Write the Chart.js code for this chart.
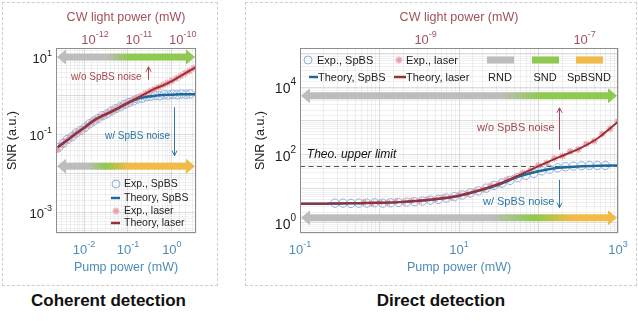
<!DOCTYPE html>
<html>
<head>
<meta charset="utf-8">
<script src="https://cdn.jsdelivr.net/npm/chart.js@4.4.1/dist/chart.umd.min.js"></script>
<style>
body{margin:0;background:#fff;width:638px;height:321px;position:relative;overflow:hidden;font-family:"Liberation Sans",Arial,sans-serif}
.panel{position:absolute;border:1px dashed #cdcdcd}
#boxL{left:2px;top:2px;width:214px;height:282px}
#boxR{left:245px;top:2px;width:390px;height:282px}
.cap{position:absolute;top:291px;font-weight:bold;font-size:17px;color:#111;text-align:center}
#capL{left:0;width:217px}
#capR{left:245px;width:392px}
#cvL{position:absolute;left:0;top:0}
#cvR{position:absolute;left:240px;top:0}
</style>
</head>
<body>
<div class="panel" id="boxL"></div>
<div class="panel" id="boxR"></div>
<canvas id="cvL" width="225" height="290"></canvas>
<canvas id="cvR" width="398" height="290"></canvas>
<div class="cap" id="capL">Coherent detection</div>
<div class="cap" id="capR">Direct detection</div>
<script>
// ---- coherent detection ----
const cohTheoryPump = [0.00251, 0.00398, 0.00631, 0.01, 0.0158, 0.0251, 0.0398, 0.0631, 0.1, 0.158, 0.251, 0.398, 0.631, 1.0, 1.58, 2.51, 3.55];
const cohTheoryLaser = [0.0479, 0.0708, 0.105, 0.151, 0.224, 0.302, 0.380, 0.501, 0.661, 0.871, 1.15, 1.51, 1.86, 2.40, 3.24, 4.37, 5.50];
const cohTheorySpbs = [0.0479, 0.0708, 0.105, 0.151, 0.224, 0.302, 0.380, 0.501, 0.661, 0.832, 0.933, 1.0, 1.05, 1.07, 1.10, 1.10, 1.10];

const cohSpbsPump = [0.00263, 0.00331, 0.00417, 0.00525, 0.00661, 0.00832, 0.0105, 0.0132, 0.0166, 0.0209, 0.0263, 0.0331, 0.0417, 0.0525, 0.0661, 0.0832, 0.105, 0.132, 0.166, 0.209, 0.263, 0.331, 0.417, 0.525, 0.661, 0.832, 1.05, 1.32, 1.66, 2.09, 2.63];
const cohSpbsSnr = [0.047, 0.060, 0.076, 0.089, 0.112, 0.129, 0.155, 0.191, 0.224, 0.263, 0.309, 0.347, 0.407, 0.468, 0.525, 0.603, 0.676, 0.741, 0.832, 0.871, 0.955, 0.977, 1.02, 1.00, 1.07, 1.05, 1.10, 1.07, 1.12, 1.10, 1.12];

const cohLaserPump = [0.00251, 0.00316, 0.00398, 0.00501, 0.00631, 0.00794, 0.01, 0.0126, 0.0158, 0.02, 0.0251, 0.0316, 0.0398, 0.0501, 0.0631, 0.0794, 0.1, 0.126, 0.158, 0.2, 0.251, 0.316, 0.398, 0.501, 0.631, 0.794, 1.0, 1.26, 1.58, 2.0, 2.51, 3.16];
const cohLaserSnr = [0.0417, 0.0562, 0.0708, 0.0871, 0.107, 0.126, 0.148, 0.182, 0.219, 0.257, 0.295, 0.339, 0.389, 0.447, 0.513, 0.575, 0.661, 0.759, 0.871, 1.0, 1.15, 1.32, 1.48, 1.66, 1.91, 2.14, 2.45, 2.82, 3.24, 3.80, 4.37, 5.13];

const cohPumpTicks = [-2, -1, 0];
const cohCwTicks = [-12, -11, -10];
const cohSnrTicks = [-3, -1, 1];

// ---- direct detection ----
const dirTheoryPump = [0.1, 0.178, 0.316, 0.562, 1, 1.78, 3.16, 5.62, 10, 17.8, 31.6, 56.2, 100, 178, 316, 562, 1000];
const dirTheoryLaser = [3.63, 3.63, 3.72, 3.80, 3.89, 4.07, 4.47, 5.13, 6.31, 8.91, 14.1, 25.1, 46.8, 85.1, 148, 316, 955];
const dirTheorySpbs = [3.63, 3.63, 3.72, 3.80, 3.89, 4.07, 4.47, 5.13, 6.31, 8.91, 13.5, 22.9, 33.1, 41.7, 45.7, 47.9, 49.0];

const dirSpbsPump = [0.275, 0.347, 0.437, 0.550, 0.692, 0.871, 1.10, 1.38, 1.74, 2.19, 2.75, 3.47, 4.37, 5.50, 6.92, 8.71, 11.0, 13.8, 17.4, 21.9, 27.5, 34.7, 43.7, 55.0, 69.2, 87.1, 110, 138, 174, 219, 275, 347, 437, 550, 692];
const dirSpbsSnr = [3.80, 3.80, 3.72, 3.80, 3.80, 3.89, 3.80, 3.89, 3.98, 4.07, 4.17, 4.37, 4.68, 4.90, 5.37, 5.89, 6.61, 7.59, 8.71, 10.5, 12.6, 14.8, 17.8, 21.4, 25.1, 28.8, 33.9, 38.0, 41.7, 44.7, 46.8, 47.9, 49.0, 49.0, 49.0];

const dirLaserPump = [0.631, 0.794, 1, 1.26, 1.58, 2.0, 2.51, 3.16, 3.98, 5.01, 6.31, 7.94, 10, 12.6, 15.8, 20, 25.1, 31.6, 39.8, 50.1, 63.1, 79.4, 100, 126, 158, 200, 251, 316, 398, 501, 631, 794, 1000];
const dirLaserSnr = [3.98, 3.72, 3.98, 3.89, 4.27, 4.07, 4.47, 4.37, 4.90, 4.90, 5.62, 5.62, 6.61, 7.08, 8.71, 9.55, 12.3, 13.8, 18.6, 21.9, 29.5, 35.5, 49.0, 57.5, 79.4, 93.3, 126, 145, 209, 257, 417, 589, 977];

const dirUpperLimit = 48;
const dirPumpTicks = [-1, 1, 3];
const dirCwTicks = [-9, -7];
const dirSnrTicks = [0, 2, 4];

const RED = '#9c2f35', BLUE = '#1f6a9a';
const RED_TXT = '#a5474e', BLUE_TXT = '#2f76a6';
const TOP_TXT = '#a0525a', BOT_TXT = '#4f8cb6';
const CIRC = '#8fb0dc', STAR = '#eaa0ab';
const GRAY = '#bdbdbd', GREEN = '#8fc94f', ORANGE = '#f2bb47';
const FONT = '"Liberation Sans", Arial, sans-serif';

function pts(xs, ys) {
  return xs.map((x, i) => ({x: x, y: ys[i]}));
}

function font(size, style) {
  return (style || '') + ' ' + size + 'px ' + FONT;
}

// thick double-headed arrow filled with a colour gradient
function band(ctx, x0, x1, y, stops) {
  const sh = 3.5, hh = 7.5, hl = 9;
  const g = ctx.createLinearGradient(x0, 0, x1, 0);
  stops.forEach(s => g.addColorStop(s[0], s[1]));
  ctx.beginPath();
  ctx.moveTo(x0, y);
  ctx.lineTo(x0 + hl, y - hh);
  ctx.lineTo(x0 + hl, y - sh);
  ctx.lineTo(x1 - hl, y - sh);
  ctx.lineTo(x1 - hl, y - hh);
  ctx.lineTo(x1, y);
  ctx.lineTo(x1 - hl, y + hh);
  ctx.lineTo(x1 - hl, y + sh);
  ctx.lineTo(x0 + hl, y + sh);
  ctx.lineTo(x0 + hl, y + hh);
  ctx.closePath();
  ctx.fillStyle = g;
  ctx.fill();
}

function vArrow(ctx, x, y0, y1, color) {
  const d = y1 < y0 ? 1 : -1;
  ctx.strokeStyle = color;
  ctx.lineWidth = 1;
  ctx.beginPath();
  ctx.moveTo(x, y0);
  ctx.lineTo(x, y1);
  ctx.moveTo(x - 2.5, y1 + 5 * d);
  ctx.lineTo(x, y1);
  ctx.lineTo(x + 2.5, y1 + 5 * d);
  ctx.stroke();
}

// "10" with a raised exponent
function pow10(ctx, x, y, e, align, size, color) {
  const sup = Math.round(size * 0.7);
  ctx.fillStyle = color;
  ctx.textBaseline = 'middle';
  ctx.textAlign = 'left';
  ctx.font = font(size);
  const wb = ctx.measureText('10').width;
  ctx.font = font(sup);
  const ws = ctx.measureText(String(e)).width;
  const x0 = align === 'right' ? x - wb - ws : x - (wb + ws) / 2;
  ctx.font = font(size);
  ctx.fillText('10', x0, y);
  ctx.font = font(sup);
  ctx.fillText(String(e), x0 + wb, y - size * 0.45);
}

function drawKey(ctx, a, it, size) {
  const x = a.left + it.dx, y = a.top + it.dy;
  if (it.kind === 'circle') {
    ctx.strokeStyle = CIRC;
    ctx.lineWidth = 1;
    ctx.beginPath();
    ctx.arc(x, y, 4, 0, Math.PI * 2);
    ctx.stroke();
  } else if (it.kind === 'star') {
    ctx.strokeStyle = STAR;
    ctx.lineWidth = 1.3;
    ctx.beginPath();
    for (let k = 0; k < 4; k++) {
      const t = k * Math.PI / 4;
      ctx.moveTo(x - 3.5 * Math.cos(t), y - 3.5 * Math.sin(t));
      ctx.lineTo(x + 3.5 * Math.cos(t), y + 3.5 * Math.sin(t));
    }
    ctx.stroke();
  } else if (it.kind === 'line') {
    ctx.strokeStyle = it.color;
    ctx.lineWidth = 2.5;
    ctx.beginPath();
    ctx.moveTo(a.left + it.x0, y);
    ctx.lineTo(a.left + it.x1, y);
    ctx.stroke();
  } else if (it.kind === 'bar') {
    ctx.fillStyle = it.color;
    ctx.fillRect(x, y - 3.5, 27, 7);
  }
  if (it.text) {
    ctx.fillStyle = '#222';
    ctx.font = font(size);
    ctx.textBaseline = 'middle';
    ctx.textAlign = it.align || 'left';
    ctx.fillText(it.text, a.left + it.tx, y + 0.5);
  }
}

function makeDecor(cfg) {
  return {
    id: 'decor',
    beforeDatasetsDraw(chart) {
      const {ctx, chartArea: a, scales} = chart;
      ctx.save();
      cfg.bands.forEach(b => band(ctx, a.left + 1, a.right - 1, scales.y.getPixelForValue(b.y), b.stops));
      if (cfg.limit) {
        const yl = Math.round(scales.y.getPixelForValue(cfg.limit)) + 0.5;
        ctx.strokeStyle = '#555';
        ctx.lineWidth = 1;
        ctx.setLineDash([5, 3.5]);
        ctx.beginPath();
        ctx.moveTo(a.left, yl);
        ctx.lineTo(a.right, yl);
        ctx.stroke();
        ctx.setLineDash([]);
      }
      ctx.restore();
    },
    afterDraw(chart) {
      const {ctx, chartArea: a, scales} = chart;
      ctx.save();
      ctx.strokeStyle = '#8e8e8e';
      ctx.lineWidth = 1;
      ctx.strokeRect(a.left + 0.5, a.top + 0.5, a.width - 1, a.height - 1);

      cfg.xTicks.forEach(e => pow10(ctx, scales.x.getPixelForValue(Math.pow(10, e)), a.bottom + 17, e, 'center', 13, BOT_TXT));
      cfg.topTicks.forEach(e => pow10(ctx, scales.x2.getPixelForValue(Math.pow(10, e)), a.top - 8, e, 'center', 13, TOP_TXT));
      cfg.yTicks.forEach(e => pow10(ctx, a.left - 4, scales.y.getPixelForValue(Math.pow(10, e)) + 2, e, 'right', cfg.ySize, '#222'));

      cfg.notes.forEach(n => {
        ctx.fillStyle = n.color;
        ctx.font = font(n.size, n.style);
        ctx.textAlign = 'left';
        ctx.textBaseline = 'middle';
        ctx.fillText(n.text, scales.x.getPixelForValue(n.x), scales.y.getPixelForValue(n.y));
      });
      cfg.arrows.forEach(r => {
        const x = Math.round(scales.x.getPixelForValue(r.x)) + 0.5;
        vArrow(ctx, x, scales.y.getPixelForValue(r.from), scales.y.getPixelForValue(r.to), r.color);
      });
      cfg.key.forEach(it => drawKey(ctx, a, it, cfg.keySize));
      ctx.restore();
    }
  };
}

function makeChart(id, d, ax, pad, yWidth, cfg) {
  const gridColor = c => (c.tick && c.tick.major) ? 'rgba(0,0,0,0.13)' : 'rgba(0,0,0,0.055)';
  return new Chart(document.getElementById(id), {
    type: 'scatter',
    data: {
      datasets: [
        {label: 'Theory, laser', data: pts(d.thPump, d.thLaser), showLine: true, borderColor: RED, borderWidth: 2, pointRadius: 0, cubicInterpolationMode: 'monotone', order: 0},
        {label: 'Theory, SpBS', data: pts(d.thPump, d.thSpbs), showLine: true, borderColor: BLUE, borderWidth: 2.5, pointRadius: 0, cubicInterpolationMode: 'monotone', order: 1},
        {label: 'Exp., laser', data: pts(d.laserPump, d.laserSnr), pointStyle: 'star', pointRadius: 3.5, borderColor: STAR, borderWidth: 1.3, backgroundColor: STAR, order: 2},
        {label: 'Exp., SpBS', data: pts(d.spbsPump, d.spbsSnr), pointStyle: 'circle', pointRadius: 4.2, borderColor: CIRC, borderWidth: 1, backgroundColor: 'rgba(0,0,0,0)', order: 3}
      ]
    },
    options: {
      responsive: false,
      animation: false,
      events: [],
      layout: {padding: pad},
      plugins: {legend: {display: false}, tooltip: {enabled: false}},
      scales: {
        x: {
          type: 'logarithmic', position: 'bottom', min: ax.xMin, max: ax.xMax,
          grid: {color: gridColor, drawTicks: false},
          border: {display: false},
          ticks: {display: false},
          title: {display: true, text: 'Pump power (mW)', color: BOT_TXT, font: {size: 12.5, family: FONT}, padding: 0},
          afterFit: s => { s.height = 42.5; }
        },
        x2: {
          type: 'logarithmic', axis: 'x', position: 'top', min: ax.cwMin, max: ax.cwMax,
          grid: {display: false},
          border: {display: false},
          ticks: {display: false},
          title: {display: true, text: 'CW light power (mW)', color: TOP_TXT, font: {size: 12.5, family: FONT}, padding: 0},
          afterFit: s => { s.height = 37.5; }
        },
        y: {
          type: 'logarithmic', position: 'left', min: ax.yMin, max: ax.yMax,
          grid: {color: gridColor, drawTicks: false},
          border: {display: false},
          ticks: {display: false},
          title: {display: true, text: 'SNR (a.u.)', color: '#222', font: {size: 12.5, family: FONT}, padding: 0},
          afterFit: s => { s.width = yWidth; }
        }
      }
    },
    plugins: [makeDecor(cfg)]
  });
}

makeChart('cvL',
  {thPump: cohTheoryPump, thLaser: cohTheoryLaser, thSpbs: cohTheorySpbs,
   spbsPump: cohSpbsPump, spbsSnr: cohSpbsSnr, laserPump: cohLaserPump, laserSnr: cohLaserSnr},
  {xMin: Math.pow(10, -2.64), xMax: Math.pow(10, 0.55), cwMin: Math.pow(10, -12.89), cwMax: Math.pow(10, -9.70),
   yMin: Math.pow(10, -3.46), yMax: Math.pow(10, 1.23)},
  {left: 5.5, right: 29, top: 10.5, bottom: 14.5}, 50.5,
  {
    xTicks: cohPumpTicks, topTicks: cohCwTicks, yTicks: cohSnrTicks, ySize: 13, keySize: 10.5,
    bands: [
      {y: 10, stops: [[0, GRAY], [0.36, GRAY], [0.52, GREEN], [1, GREEN]]},
      {y: 0.0155, stops: [[0, GRAY], [0.22, GRAY], [0.35, GREEN], [0.52, ORANGE], [1, ORANGE]]}
    ],
    notes: [
      {text: 'w/o SpBS noise', x: 0.005, y: 3.1, color: RED_TXT, size: 10},
      {text: 'w/ SpBS noise', x: 0.030, y: 0.093, color: BLUE_TXT, size: 10}
    ],
    arrows: [
      {x: 0.285, from: 2.6, to: 5.6, color: RED_TXT},
      {x: 1.11, from: 0.51, to: 0.029, color: BLUE_TXT}
    ],
    key: [
      {kind: 'circle', dx: 60, dy: 136, text: 'Exp., SpBS', tx: 68},
      {kind: 'line', color: BLUE, x0: 55, x1: 64, dy: 150, text: 'Theory, SpBS', tx: 68},
      {kind: 'star', dx: 60, dy: 163, text: 'Exp., laser', tx: 68},
      {kind: 'line', color: RED, x0: 55, x1: 64, dy: 175, text: 'Theory, laser', tx: 68}
    ]
  });

makeChart('cvR',
  {thPump: dirTheoryPump, thLaser: dirTheoryLaser, thSpbs: dirTheorySpbs,
   spbsPump: dirSpbsPump, spbsSnr: dirSpbsSnr, laserPump: dirLaserPump, laserSnr: dirLaserSnr},
  {xMin: 0.1, xMax: 1000, cwMin: Math.pow(10, -10.58), cwMax: Math.pow(10, -6.58),
   yMin: Math.pow(10, -0.3), yMax: Math.pow(10, 5.15)},
  {left: 13.5, right: 20, top: 10.5, bottom: 14.5}, 46.5,
  {
    xTicks: dirPumpTicks, topTicks: dirCwTicks, yTicks: dirSnrTicks, ySize: 14, keySize: 11,
    limit: dirUpperLimit,
    bands: [
      {y: 5500, stops: [[0, GRAY], [0.63, GRAY], [0.76, GREEN], [1, GREEN]]},
      {y: 1.4, stops: [[0, GRAY], [0.6, GRAY], [0.74, GREEN], [0.86, ORANGE], [1, ORANGE]]}
    ],
    notes: [
      {text: 'w/o SpBS noise', x: 16.8, y: 630, color: RED_TXT, size: 11},
      {text: 'w/ SpBS noise', x: 20, y: 4.16, color: BLUE_TXT, size: 11},
      {text: 'Theo. upper limit', x: 0.122, y: 100, color: '#111', size: 12, style: 'italic'}
    ],
    arrows: [
      {x: 181, from: 141, to: 2450, color: RED_TXT},
      {x: 181, from: 18.5, to: 2.77, color: BLUE_TXT}
    ],
    key: [
      {kind: 'circle', dx: 8, dy: 12, text: 'Exp., SpBS', tx: 17},
      {kind: 'star', dx: 99, dy: 12, text: 'Exp., laser', tx: 106},
      {kind: 'bar', color: GRAY, dx: 187, dy: 12},
      {kind: 'bar', color: GREEN, dx: 232, dy: 12},
      {kind: 'bar', color: ORANGE, dx: 276, dy: 12},
      {kind: 'line', color: BLUE, x0: 9, x1: 18, dy: 29, text: 'Theory, SpBS', tx: 18},
      {kind: 'line', color: RED, x0: 94, x1: 106, dy: 29, text: 'Theory, laser', tx: 106},
      {kind: 'text', dy: 29, text: 'RND', tx: 200, align: 'center'},
      {kind: 'text', dy: 29, text: 'SND', tx: 245, align: 'center'},
      {kind: 'text', dy: 29, text: 'SpBSND', tx: 289, align: 'center'}
    ]
  });
</script>
</body>
</html>
